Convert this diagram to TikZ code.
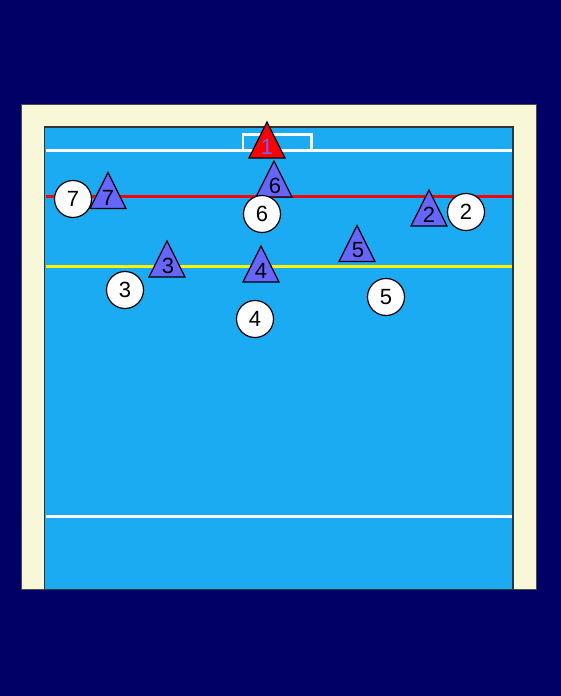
\documentclass[tikz,border=0pt]{standalone}
\usepackage{fontspec}
\setmainfont{Liberation Sans}
\definecolor{navy}{HTML}{000066}
\definecolor{cream}{HTML}{F8F8D8}
\definecolor{pool}{HTML}{1AABF2}
\definecolor{tri}{HTML}{6666FF}
\tikzset{
  player/.style={circle,draw=black,line width=1.2pt,fill=white,minimum size=37pt,inner sep=0pt,font=\fontsize{22}{22}\selectfont},
  tribody/.style={draw=black,line width=1.2pt,fill=tri,line join=miter},
  trilabel/.style={inner sep=0pt,font=\fontsize{22}{22}\selectfont},
  poolline/.style={line width=3pt}
}
\newcommand\deftri[4]{%
  \draw[tribody,fill=#4] (#1-18,#2+18)--(#1,#2-18)--(#1+18,#2+18)--cycle;
}
\begin{document}
\begin{tikzpicture}[x=1pt,y=-1pt]
\useasboundingbox (0,0) rectangle (560,696);
\fill[navy] (-10,-10) rectangle (570,706);
\draw[fill=cream,draw=black!70,line width=1pt] (21.5,104) rectangle (536.5,589.5);
\draw[fill=pool,draw=black!80,line width=1.5pt] (44.5,127) rectangle (513,589.5);
% lines
\draw[poolline,white] (45.5,150) -- (512,150);
\draw[poolline,red] (45.5,196.5) -- (512,196.5);
\draw[poolline,yellow] (45.5,266) -- (512,266);
\draw[poolline,white] (45.5,516.5) -- (512,516.5);
% goal
\draw[white,line width=2.5pt] (243,150) -- (243,134.5) -- (311.5,134.5) -- (311.5,150);
% defenders (triangles)
\deftri{267}{140}{}{red}
\node[trilabel,text=tri] (t1) at (267,147) {1};
\deftri{274}{179}{}{tri}
\node[trilabel] (t6) at (275,186) {6};
\deftri{108}{190.5}{}{tri}
\node[trilabel] (t7) at (108,197.5) {7};
\deftri{167}{259}{}{tri}
\node[trilabel] (t3) at (168,266) {3};
\deftri{429}{208}{}{tri}
\node[trilabel] (t2) at (429,215) {2};
\deftri{357}{243.5}{}{tri}
\node[trilabel] (t5) at (358,250.5) {5};
\deftri{261}{264}{}{tri}
\node[trilabel] (t4) at (261,271) {4};
% attackers (circles)
\node[player] (c7) at (73,199) {7};
\node[player] (c6) at (262,214) {6};
\node[player] (c2) at (466,212) {2};
\node[player] (c3) at (125,290) {3};
\node[player] (c5) at (386,297) {5};
\node[player] (c4) at (255,319) {4};
\end{tikzpicture}
\end{document}
